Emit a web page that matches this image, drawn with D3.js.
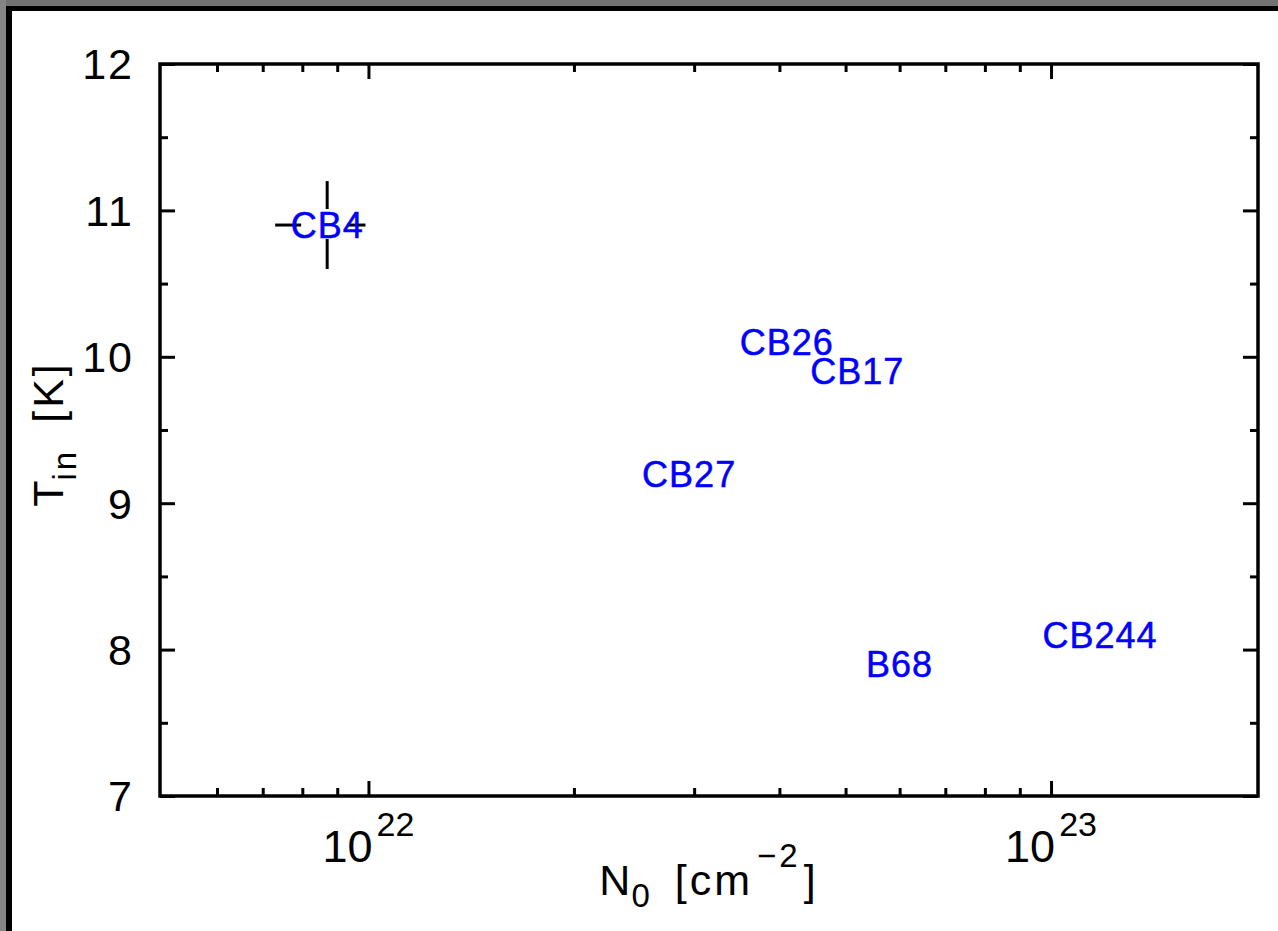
<!DOCTYPE html>
<html>
<head>
<meta charset="utf-8">
<script src="https://cdn.jsdelivr.net/npm/d3@7"></script>
<style>
  body { margin: 0; background: #fff; }
  text { font-family: "Liberation Sans", Arial, Helvetica, sans-serif; }
</style>
</head>
<body>
<div id="container"></div>
<script>
// cores: names, column density N0 (cm^-2), inner temperature Tin (K)
var names = ["CB4", "CB26", "CB17", "CB27", "B68", "CB244"]
var n0 = [8.7e21, 4.1e22, 5.2e22, 2.95e22, 6.0e22, 1.18e23]
var tin = [10.9, 10.1, 9.9, 9.2, 7.9, 8.1]

// error bar (only CB4 has one)
var errName = "CB4"
var errN = [7.3e21, 9.9e21]
var errT = [10.6, 11.2]

// ticks
var xMajor = [1e22, 1e23]
var xMajorExp = ["22", "23"]
var xMinor = [6e21, 7e21, 8e21, 9e21, 2e22, 3e22, 4e22, 5e22, 6e22, 7e22, 8e22, 9e22]
var yMajor = [7, 8, 9, 10, 11, 12]
var yMinor = [7.5, 8.5, 9.5, 10.5, 11.5]

var w = 1278
var h = 931
var pL = 160, pR = 1258, pT = 64, pB = 796

var svg = d3.select("#container").append("svg")
    .attr("width", w)
    .attr("height", h)
    .style("display", "block")

// window frame (gray + black edge on top and left)
svg.append("rect").attr("x", 0).attr("y", 0).attr("width", w).attr("height", 6).attr("fill", "#727272")
svg.append("rect").attr("x", 0).attr("y", 0).attr("width", 6).attr("height", h).attr("fill", "#858585")
svg.append("rect").attr("x", 6).attr("y", 6).attr("width", w - 6).attr("height", 5).attr("fill", "#000")
svg.append("rect").attr("x", 6).attr("y", 6).attr("width", 6).attr("height", h - 6).attr("fill", "#000")

var x = d3.scaleLog().domain([4.95e21, 2.01e23]).range([pL, pR])
var y = d3.scaleLinear().domain([7, 12]).range([pB, pT])

function styleAxis(g) {
    g.select(".domain").remove()
    g.selectAll(".tick line").attr("stroke", "#000").attr("stroke-width", 3)
    g.selectAll(".tick text").remove()
}

// bottom + top ticks (pointing inward)
svg.append("g").attr("transform", "translate(0," + pB + ")")
    .call(d3.axisBottom(x).tickValues(xMajor).tickSize(-15)).call(styleAxis)
svg.append("g").attr("transform", "translate(0," + pB + ")")
    .call(d3.axisBottom(x).tickValues(xMinor).tickSize(-8)).call(styleAxis)
svg.append("g").attr("transform", "translate(0," + pT + ")")
    .call(d3.axisTop(x).tickValues(xMajor).tickSize(-15)).call(styleAxis)
svg.append("g").attr("transform", "translate(0," + pT + ")")
    .call(d3.axisTop(x).tickValues(xMinor).tickSize(-8)).call(styleAxis)

// left + right ticks
svg.append("g").attr("transform", "translate(" + pL + ",0)")
    .call(d3.axisLeft(y).tickValues(yMajor).tickSize(-15)).call(styleAxis)
svg.append("g").attr("transform", "translate(" + pL + ",0)")
    .call(d3.axisLeft(y).tickValues(yMinor).tickSize(-8)).call(styleAxis)
svg.append("g").attr("transform", "translate(" + pR + ",0)")
    .call(d3.axisRight(y).tickValues(yMajor).tickSize(-15)).call(styleAxis)
svg.append("g").attr("transform", "translate(" + pR + ",0)")
    .call(d3.axisRight(y).tickValues(yMinor).tickSize(-8)).call(styleAxis)

// plot box
svg.append("rect")
    .attr("x", pL).attr("y", pT)
    .attr("width", pR - pL).attr("height", pB - pT)
    .attr("fill", "none").attr("stroke", "#000").attr("stroke-width", 3.5)

// y tick labels
svg.selectAll(".ylab")
    .data(yMajor)
    .enter()
    .append("text")
    .attr("class", "ylab")
    .attr("x", pL - 26)
    .attr("y", function (d) { return y(d) })
    .attr("dy", "0.36em")
    .attr("text-anchor", "end")
    .attr("font-size", 43)
    .attr("letter-spacing", 2)
    .text(function (d) { return d })

// x tick labels 10^n
var xl = svg.selectAll(".xlab")
    .data(xMajor)
    .enter()
    .append("text")
    .attr("class", "xlab")
    .attr("x", function (d) { return x(d) })
    .attr("y", 862)
    .attr("text-anchor", "middle")
    .attr("font-size", 45)
xl.append("tspan").text("10")
xl.append("tspan")
    .attr("dy", -26).attr("dx", 4)
    .attr("font-size", 34)
    .text(function (d, i) { return xMajorExp[i] })

// x title
var xt = svg.append("text")
    .attr("x", (pL + pR) / 2)
    .attr("y", 895)
    .attr("text-anchor", "middle")
    .attr("font-size", 43)
    .attr("letter-spacing", 3)
xt.append("tspan").text("N")
xt.append("tspan").attr("dy", 12).attr("dx", -2).attr("font-size", 33).text("0")
xt.append("tspan").attr("dy", -12).attr("dx", 22).text("[cm")
xt.append("tspan").attr("dy", -28).attr("dx", 4).attr("font-size", 33).text("\u22122")
xt.append("tspan").attr("dy", 28).attr("dx", 3).text("]")

// y title
var yt = svg.append("text")
    .attr("transform", "translate(63," + ((pT + pB) / 2 + 4) + ") rotate(-90)")
    .attr("text-anchor", "middle")
    .attr("font-size", 43)
    .attr("letter-spacing", 3)
yt.append("tspan").text("T")
yt.append("tspan").attr("dy", 13).attr("dx", -3).attr("font-size", 33).text("in")
yt.append("tspan").attr("dy", -13).attr("dx", 26).text("[K]")

// error bar for CB4 (gap around the label)
var ei = names.indexOf(errName)
var cx = x(n0[ei]), cy = y(tin[ei])
var errSegs = [
    [x(errN[0]), cy, cx - 26, cy],
    [cx + 20, cy, x(errN[1]), cy],
    [cx, y(errT[1]), cx, cy - 16],
    [cx, cy + 14, cx, y(errT[0])]
]
svg.selectAll(".err")
    .data(errSegs)
    .enter()
    .append("line")
    .attr("class", "err")
    .attr("x1", function (d) { return d[0] })
    .attr("y1", function (d) { return d[1] })
    .attr("x2", function (d) { return d[2] })
    .attr("y2", function (d) { return d[3] })
    .attr("stroke", "#000")
    .attr("stroke-width", 3)

// core labels
svg.selectAll(".core")
    .data(names)
    .enter()
    .append("text")
    .attr("class", "core")
    .attr("x", function (d, i) { return x(n0[i]) })
    .attr("y", function (d, i) { return y(tin[i]) })
    .attr("dy", "0.36em")
    .attr("text-anchor", "middle")
    .attr("font-size", 36)
    .attr("letter-spacing", 1)
    .attr("fill", "#0000ff")
    .attr("stroke", "#0000ff")
    .attr("stroke-width", 0.5)
    .text(function (d) { return d })
</script>
</body>
</html>
